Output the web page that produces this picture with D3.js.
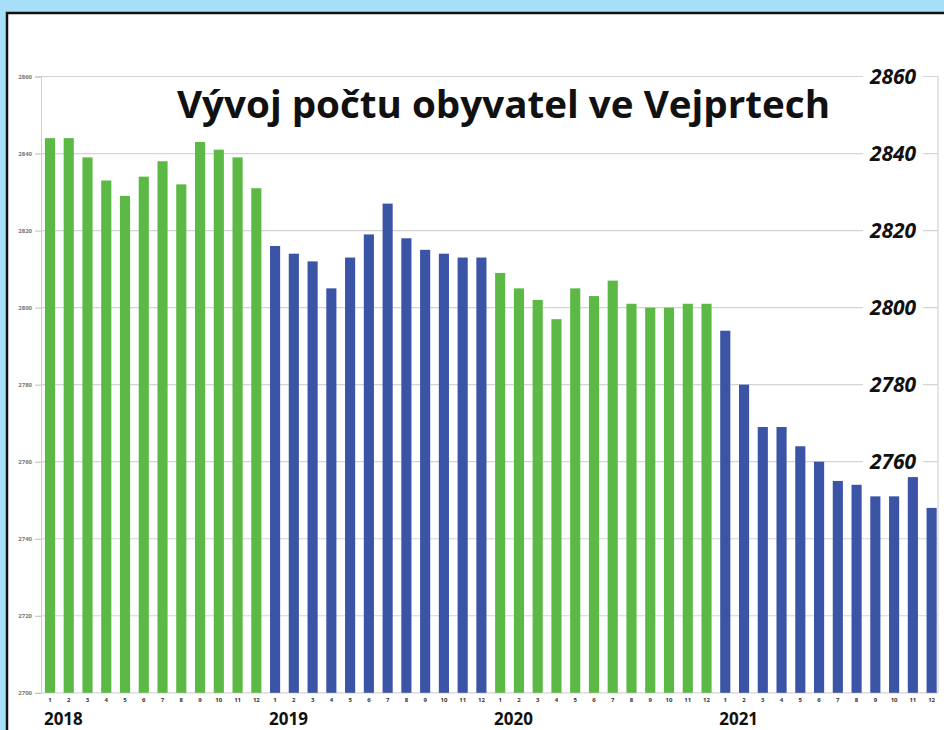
<!DOCTYPE html>
<html lang="cs">
<head>
    <meta charset="UTF-8">
    <title>Vývoj počtu obyvatel ve Vejprtech</title>
    <script src="https://d3js.org/d3.v7.min.js"></script>
    <style>
        html, body { margin: 0; padding: 0; background: #a8dff8; }
    </style>
</head>
<body>
    <div id="chart"></div>
    <script>

    // data
    const years = [2018, 2019, 2020, 2021];
    const months = [1, 2, 3, 4, 5, 6, 7, 8, 9, 10, 11, 12];
    const pop2018 = [2844, 2844, 2839, 2833, 2829, 2834, 2838, 2832, 2843, 2841, 2839, 2831];
    const pop2019 = [2816, 2814, 2812, 2805, 2813, 2819, 2827, 2818, 2815, 2814, 2813, 2813];
    const pop2020 = [2809, 2805, 2802, 2797, 2805, 2803, 2807, 2801, 2800, 2800, 2801, 2801];
    const pop2021 = [2794, 2780, 2769, 2769, 2764, 2760, 2755, 2754, 2751, 2751, 2756, 2748];
    const leftTicks = [2700, 2720, 2740, 2760, 2780, 2800, 2820, 2840, 2860];
    const rightTicks = [2760, 2780, 2800, 2820, 2840, 2860];
    const yearColors = ["#5cb946", "#3b54a6", "#5cb946", "#3b54a6"];
    const title = "Vývoj počtu obyvatel ve Vejprtech";

    const series = [pop2018, pop2019, pop2020, pop2021];
    const data = [];
    years.forEach((yr, i) => {
        months.forEach((m, j) => {
            data.push({key: yr + "-" + m, year: yr, month: m, value: series[i][j], color: yearColors[i]});
        });
    });

    const W = 944, H = 730;

    const svg = d3.select("#chart")
        .append("svg")
        .attr("width", W)
        .attr("height", H)
        .style("display", "block");

    // light blue frame + white panel with dark edge
    svg.append("rect").attr("width", W).attr("height", H).attr("fill", "#a8dff8");
    svg.append("rect")
        .attr("x", 7).attr("y", 13)
        .attr("width", W).attr("height", H)
        .attr("fill", "#ffffff")
        .attr("stroke", "#111")
        .attr("stroke-width", 2.5);

    const x = d3.scaleBand()
        .domain(data.map(d => d.key))
        .range([40.6, 941])
        .paddingInner(0.46)
        .paddingOuter(0.23);

    const y = d3.scaleLinear()
        .domain([2700, 2860])
        .range([692.8, 76.5]);

    // grid lines
    svg.append("g")
        .selectAll("line")
        .data(leftTicks)
        .join("line")
        .attr("x1", 41)
        .attr("x2", 938)
        .attr("y1", d => y(d))
        .attr("y2", d => y(d))
        .attr("stroke", "#d4d4d4")
        .attr("stroke-width", 1.2);

    // left axis (tiny labels)
    const leftAxis = svg.append("g")
        .attr("transform", "translate(41,0)")
        .call(d3.axisLeft(y).tickValues(leftTicks).tickSize(6).tickFormat(d3.format("d")));
    leftAxis.select(".domain").attr("stroke", "#cfcfcf");
    leftAxis.selectAll(".tick line").attr("stroke", "#bdbdbd");
    leftAxis.selectAll("text")
        .attr("fill", "#777")
        .style("font-family", "'Open Sans', sans-serif")
        .style("font-size", "6px")
        .style("font-weight", "bold");

    // right axis line
    svg.append("line")
        .attr("x1", 938).attr("x2", 938)
        .attr("y1", y(2860)).attr("y2", y(2700))
        .attr("stroke", "#d4d4d4")
        .attr("stroke-width", 1.2);

    // bars
    svg.append("g")
        .selectAll("rect")
        .data(data)
        .join("rect")
        .attr("x", d => x(d.key))
        .attr("y", d => y(d.value))
        .attr("width", x.bandwidth())
        .attr("height", d => y(2700) - y(d.value))
        .attr("fill", d => d.color);

    // right labels, big bold italic on white
    const rg = svg.append("g")
        .selectAll("g")
        .data(rightTicks)
        .join("g")
        .attr("transform", d => `translate(893,${y(d)})`);
    rg.append("rect")
        .attr("x", -30).attr("y", -12)
        .attr("width", 60).attr("height", 24)
        .attr("fill", "#fff");
    rg.append("text")
        .attr("text-anchor", "middle")
        .attr("dy", "0.36em")
        .attr("fill", "#111")
        .style("font-family", "'Open Sans', sans-serif")
        .style("font-size", "21px")
        .style("font-weight", "bold")
        .style("font-style", "italic")
        .text(d => d);

    // month labels
    svg.append("g")
        .selectAll("text")
        .data(data)
        .join("text")
        .attr("x", d => x(d.key) + x.bandwidth() / 2)
        .attr("y", 702)
        .attr("text-anchor", "middle")
        .attr("fill", "#333")
        .style("font-family", "'Open Sans', sans-serif")
        .style("font-size", "6px")
        .style("font-weight", "bold")
        .text(d => d.month);

    // year labels
    svg.append("g")
        .selectAll("text")
        .data(years)
        .join("text")
        .attr("x", d => x(d + "-1") - 1)
        .attr("y", 725)
        .attr("fill", "#111")
        .style("font-family", "'Open Sans', sans-serif")
        .style("font-size", "17px")
        .style("font-weight", "bold")
        .text(d => d);

    // title
    svg.append("text")
        .attr("x", 177)
        .attr("y", 118)
        .attr("textLength", 653)
        .attr("lengthAdjust", "spacingAndGlyphs")
        .attr("fill", "#111")
        .style("font-family", "'Open Sans', sans-serif")
        .style("font-size", "38px")
        .style("font-weight", "bold")
        .text(title);

    </script>
</body>
</html>
